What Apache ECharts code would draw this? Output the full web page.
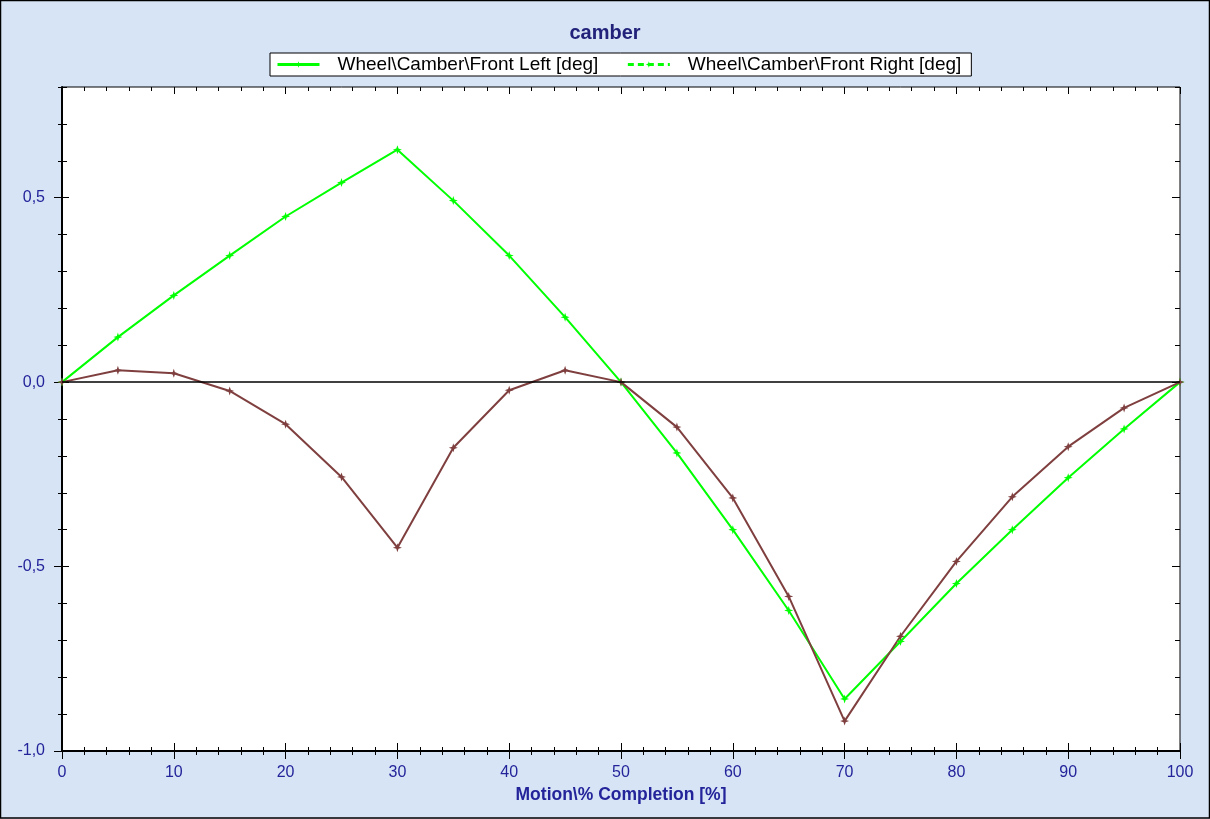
<!DOCTYPE html>
<html>
<head>
<meta charset="utf-8">
<script src="https://cdn.jsdelivr.net/npm/echarts@6/dist/echarts.min.js"></script>
<style>
  html, body { margin: 0; padding: 0; background: #d7e4f6; }
  #chart { width: 1210px; height: 819px; }
</style>
</head>
<body>
<div id="chart"></div>
<script>
// Camber sweep over the motion, sampled every 5 %
const motion = [0, 5, 10, 15, 20, 25, 30, 35, 40, 45, 50, 55, 60, 65, 70, 75, 80, 85, 90, 95, 100];
const frontLeft = [0, 0.122, 0.235, 0.343, 0.449, 0.541, 0.630, 0.492, 0.343, 0.176, 0,
  -0.192, -0.400, -0.619, -0.859, -0.703, -0.546, -0.400, -0.259, -0.127, 0];
const frontRight = [0, 0.032, 0.024, -0.024, -0.114, -0.257, -0.449, -0.178, -0.022, 0.032, 0,
  -0.122, -0.314, -0.581, -0.919, -0.689, -0.486, -0.311, -0.175, -0.070, 0];
const yMajorTicks = [-1.0, -0.5, 0.0, 0.5];
const seriesNames = ['Wheel\\Camber\\Front Left [deg]', 'Wheel\\Camber\\Front Right [deg]'];

const FONT = '"Liberation Sans", Arial, sans-serif';
const NAVY = '#24249a';
const GREEN = '#00ff00';
const BROWN = '#7f3f3f';
const STAR = 'path://M0,-1L0.25,-0.25L1,0L0.25,0.25L0,1L-0.25,0.25L-1,0L-0.25,-0.25Z';

function yAx(extra) {
  return Object.assign({
    type: 'value', min: -1.0, max: 0.8, interval: 0.1,
    splitLine: { show: false },
    axisLine: { show: false, onZero: false },
    axisLabel: { show: false },
    axisTick: { show: false }
  }, extra);
}
function xAx(extra) {
  return Object.assign({
    type: 'value', min: 0, max: 100, interval: 10,
    splitLine: { show: false },
    axisLine: { show: false, onZero: false },
    axisLabel: { show: false },
    axisTick: { show: false },
    minorTick: { show: false }
  }, extra);
}
const tickLine = { color: '#000', width: 1 };

const chart = echarts.init(document.getElementById('chart'));
chart.setOption({
  backgroundColor: '#d7e4f6',
  animation: false,
  title: {
    text: 'camber', left: 'center', top: 18,
    textStyle: { fontFamily: FONT, fontSize: 20, fontWeight: 'bold', color: '#22227a' }
  },
  legend: {
    left: 270, top: 53,
    padding: [2, 10, 2, 6],
    itemGap: 28, itemWidth: 42, itemHeight: 8,
    backgroundColor: '#fff', borderColor: '#000', borderWidth: 1,
    textStyle: { fontFamily: FONT, fontSize: 19, color: '#000', padding: [0, 0, 0, 13] },
    data: [
      { name: seriesNames[0], itemStyle: { color: GREEN }, lineStyle: { color: GREEN, type: 'solid', width: 3 } },
      { name: seriesNames[1], itemStyle: { color: GREEN }, lineStyle: { color: GREEN, type: [6, 4], width: 3 } }
    ]
  },
  grid: { left: 62, right: 30, top: 87, bottom: 68, containLabel: false,
    show: true, backgroundColor: '#fff', borderColor: '#000', borderWidth: 1 },
  graphic: [{
    type: 'rect', silent: true, z: 100,
    shape: { x: 0.5, y: 0.5, width: 1209, height: 817.5 },
    style: { fill: 'none', stroke: '#000', lineWidth: 1.5 }
  }],
  xAxis: [
    xAx({ position: 'bottom',
      axisLine: { show: true, onZero: false, lineStyle: { color: '#000', width: 2 } },
      axisTick: { show: true, length: 8, lineStyle: tickLine },
      minorTick: { show: true, splitNumber: 5, length: 4, lineStyle: tickLine },
      axisLabel: { show: true, margin: 14, fontFamily: FONT, fontSize: 16, color: NAVY },
      name: 'Motion\\% Completion [%]', nameLocation: 'middle', nameGap: 35,
      nameTextStyle: { fontFamily: FONT, fontSize: 17.5, fontWeight: 'bold', color: NAVY } }),
    xAx({ position: 'bottom',
      axisTick: { show: true, inside: true, length: 8, lineStyle: tickLine },
      minorTick: { show: true, splitNumber: 5, length: 4, lineStyle: tickLine } }),
    xAx({ position: 'top',
      axisTick: { show: true, inside: true, length: 7, lineStyle: tickLine },
      minorTick: { show: true, splitNumber: 5, length: 4, lineStyle: tickLine } })
  ],
  yAxis: [
    yAx({ position: 'left',
      axisLine: { show: true, onZero: false, lineStyle: { color: '#000', width: 2 } },
      axisTick: { show: true, length: 4, lineStyle: tickLine },
      axisLabel: { show: true, customValues: yMajorTicks, margin: 17,
        fontFamily: FONT, fontSize: 16, color: NAVY,
        formatter: v => v.toFixed(1).replace('.', ',') } }),
    yAx({ position: 'left',
      axisTick: { show: true, inside: true, length: 5, lineStyle: tickLine } }),
    yAx({ position: 'left',
      axisTick: { show: true, length: 8, customValues: yMajorTicks, lineStyle: tickLine } }),
    yAx({ position: 'left',
      axisTick: { show: true, inside: true, length: 7, customValues: yMajorTicks, lineStyle: tickLine } }),
    yAx({ position: 'right',
      axisTick: { show: true, inside: true, length: 5, lineStyle: tickLine } }),
    yAx({ position: 'right',
      axisTick: { show: true, inside: true, length: 8, customValues: yMajorTicks, lineStyle: tickLine } })
  ],
  series: [
    {
      name: seriesNames[0], type: 'line',
      data: motion.map((m, i) => [m, frontLeft[i]]),
      symbol: STAR, symbolSize: 9, showSymbol: true,
      lineStyle: { color: GREEN, width: 2 }, itemStyle: { color: GREEN },
      markLine: {
        silent: true, symbol: 'none', label: { show: false },
        lineStyle: { color: '#000', width: 1.5, type: 'solid' },
        data: [{ yAxis: 0 }]
      }
    },
    {
      name: seriesNames[1], type: 'line',
      data: motion.map((m, i) => [m, frontRight[i]]),
      symbol: STAR, symbolSize: 9, showSymbol: true,
      lineStyle: { color: BROWN, width: 2 }, itemStyle: { color: BROWN }
    }
  ]
});
</script>
</body>
</html>
